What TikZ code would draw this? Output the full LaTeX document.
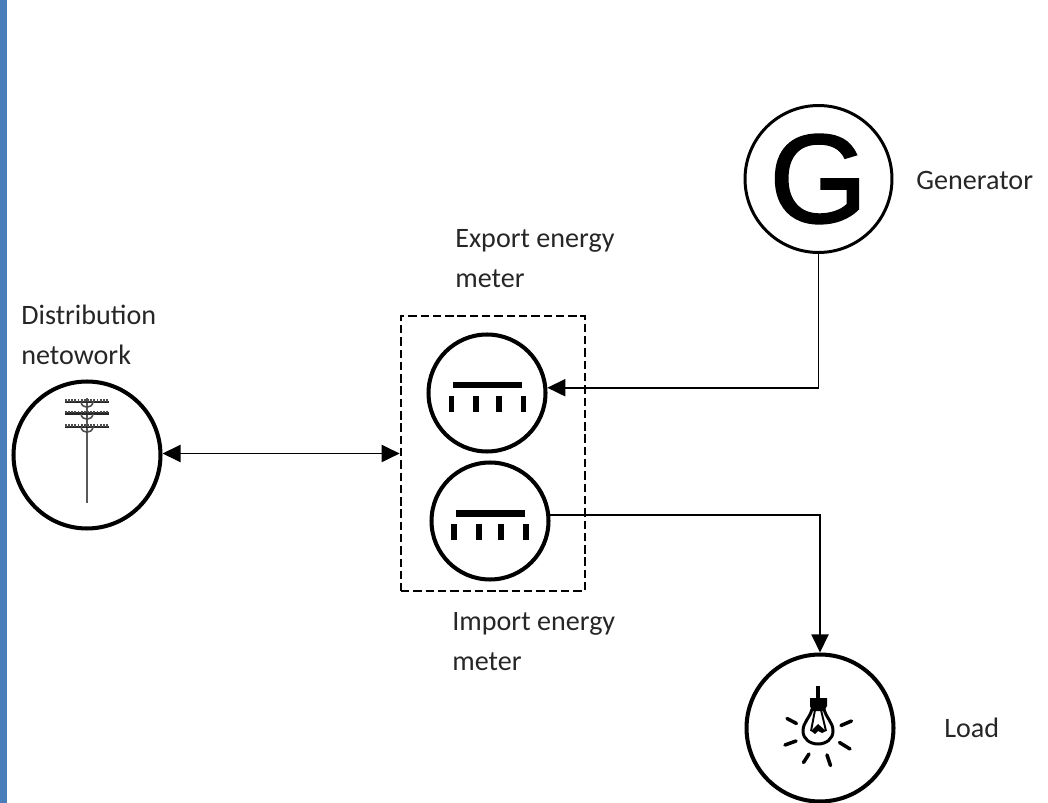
\documentclass[tikz,border=0pt]{standalone}
\usepackage{fontspec}
\setmainfont{Carlito}
\newfontfamily\gfont[FakeBold=1.4]{Liberation Sans}
\usetikzlibrary{arrows.meta}
\definecolor{stripblue}{HTML}{4A7EBB}

\tikzset{
  ring/.style={draw,circle,line width=2.3pt,inner sep=0pt,minimum size=2.94cm},
  meter/.style={draw,circle,line width=2.3pt,inner sep=0pt,minimum size=2.34cm},
  wire/.style={line width=1.1pt},
  label/.style={anchor=west,align=left,inner sep=0pt,text=black!85,font=\fontsize{16}{22.7}\selectfont},
}

\begin{document}
\begin{tikzpicture}[x=0.02cm,y=-0.02cm,>={Triangle[length=0.36cm,width=0.34cm]}]
\useasboundingbox (0,0) rectangle (1048,803);

% Blue strip on the left
\fill[stripblue] (0,0) rectangle (7,803);

% Dashed meter box
\node (mbox) [draw,line width=1.5pt,dash pattern=on 4.8pt off 2.2pt,
  minimum width=3.68cm,minimum height=5.5cm] at (493,453.5) {};

% Circles
\node (dist) [ring] at (87,455) {};
\node (gen) [ring,line width=1.7pt] at (818.5,179) {\gfont\fontsize{72}{72}\selectfont G};
\node (load) [ring] at (820,728) {};
\node (mexp) [meter] at (487,393) {};
\node (mimp) [meter] at (490,521) {};

% Connections
\draw[wire,<->] (dist.east |- mbox.west) -- (mbox.west);
\draw[wire,->] (gen.south) |- (mexp.5);
\draw[wire,->] (mimp.6) -| (load.north);

% Export meter symbol
\draw[line width=3.8pt] (453,385) -- (522,385);
\draw[line width=2.9pt] (451.5,396) -- (451.5,412) (476,396) -- (476,412)
  (499,396) -- (499,412) (523.5,396) -- (523.5,412);

% Import meter symbol
\draw[line width=3.8pt] (456,513.5) -- (525,513.5);
\draw[line width=2.9pt] (454,524) -- (454,540) (479,524) -- (479,540)
  (501,524) -- (501,540) (526,524) -- (526,540);

% Pole
\draw[line width=1.3pt,black!65] (87,398) -- (87,503);
\draw[line width=1.5pt,black!85] (65,402) -- (109,402) (65,413.5) -- (109,413.5) (65,427) -- (109,427);
\draw[line width=1.2pt,black!70,dash pattern=on 1pt off 0.8pt] (65,400.5) -- (109,400.5)
  (65,412) -- (109,412) (65,425.5) -- (109,425.5);
\draw[line width=0.9pt,black!70]
  (81,402) .. controls (82,409) and (92,409) .. (93,402)
  (81,414) .. controls (82,421) and (92,421) .. (93,414)
  (81,427) .. controls (82,434) and (92,434) .. (93,427);

% Bulb
\draw[line width=1.9pt] (818,686) -- (818,698);
\fill (810,698) -- (827,698) -- (827,706) -- (824,711) -- (812,711) -- (810,706) -- cycle;
\draw[line width=1.7pt] (812,709) .. controls (810,718) and (803,722) .. (803,731)
  .. controls (803,739) and (810,744) .. (818,744)
  .. controls (826,744) and (833,739) .. (833,731)
  .. controls (833,722) and (826,718) .. (824,709);
\draw[line width=1.1pt] (815,710) -- (811,731) (821,710) -- (826,731);
\fill (811,731) -- (818,724) -- (826,731) -- (822,733) -- (818,731) -- (815,734) -- cycle;

% Rays
\draw[line width=2pt,line cap=round] (787,718.5) -- (796.5,723.5) (841,725.5) -- (851.5,721)
  (785,745) -- (796,741) (839.5,742.5) -- (850,749)
  (803.5,762.5) -- (809,754) (827,755) -- (830.5,765.5);

% Labels
\node (lgen) [label] at (916,180) {Generator};
\node (lload) [label] at (944,728) {Load};
\node (lexp) [label] at (455,259) {Export energy\\meter};
\node (limp) [label] at (452,641.5) {Import energy\\meter};
\node (ldist) [label] at (21,334.5) {Distribution\\netowork};

\end{tikzpicture}
\end{document}
